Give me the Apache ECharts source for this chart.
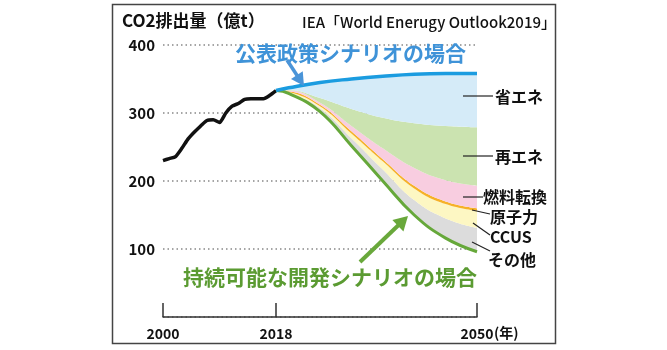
<!DOCTYPE html>
<html>
<head>
<meta charset="utf-8">
<script src="https://cdn.jsdelivr.net/npm/echarts@6/dist/echarts.min.js"></script>
<style>
  html, body { margin: 0; padding: 0; background: #fff; }
  #chart { width: 667px; height: 350px; }
</style>
</head>
<body>
<div id="chart"></div>
<script>
// 実績 (2000-2018)
const histYears = [2000, 2001, 2002, 2003, 2004, 2005, 2006, 2007, 2008, 2009,
                   2010, 2011, 2012, 2013, 2014, 2015, 2016, 2017, 2018];
const histCO2 = [230, 233, 236, 248, 262, 272, 281, 289, 290, 286,
                 300, 310, 314, 320, 321, 321, 321, 326, 333];

// 見通し (2018-2050)
const futureYears = [2018, 2020, 2025, 2030, 2035, 2040, 2045, 2050];
const steps = [333, 337, 345, 350, 354, 357, 358, 358];   // 公表政策シナリオ
const sds = [333, 329, 302, 252, 200, 150, 116, 96];      // 持続可能な開発シナリオ
// 削減分の内訳（下から積み上げ）
const other   = [0, 1, 5, 11, 17, 22, 29, 35];   // その他
const ccus    = [0, 1, 3, 7, 12, 17, 21, 25];    // CCUS
const nuclear = [0, 1, 2, 3, 3, 4, 4, 4];        // 原子力
const fuel    = [0, 1, 3, 8, 16, 26, 31, 33];    // 燃料転換
const renew   = [0, 1, 7, 25, 45, 66, 80, 86];   // 再エネ
const effic   = [0, 3, 23, 44, 61, 72, 77, 79];  // 省エネ

const xTicks = [2000, 2018, 2050];
const yTicks = [100, 200, 300, 400];

const FONT = '"Noto Sans CJK JP", "Noto Sans", sans-serif';
const SMOOTH = 0.45;

// 系列は非表示のtime軸に載せる（value軸同士だと積み上げがx方向になるため）
function yr(y) { return Date.UTC(y, 0, 1); }

function pairs(xs, ys) {
  return xs.map(function (x, i) { return [yr(x), ys[i]]; });
}

function band(name, arr, color) {
  return {
    name: name,
    type: 'line',
    stack: 'sds',
    smooth: SMOOTH,
    symbol: 'none',
    lineStyle: { width: 0, opacity: 0 },
    areaStyle: { color: color, opacity: 1 },
    data: pairs(futureYears, arr),
    z: 1
  };
}

// 矢印（線＋三角）
function arrow(x1, y1, x2, y2, color, headLen, headW, lineW) {
  const dx = x2 - x1, dy = y2 - y1;
  const len = Math.sqrt(dx * dx + dy * dy);
  const ux = dx / len, uy = dy / len;
  const bx = x2 - ux * headLen, by = y2 - uy * headLen;
  const px = -uy, py = ux;
  return [
    { type: 'line', shape: { x1: x1, y1: y1, x2: bx + ux, y2: by + uy },
      style: { stroke: color, lineWidth: lineW }, z: 10 },
    { type: 'polygon', shape: { points: [[x2, y2],
        [bx + px * headW, by + py * headW], [bx - px * headW, by - py * headW]] },
      style: { fill: color }, z: 10 }
  ];
}

function label(text, x, y) {
  return { type: 'text', x: x, y: y, z: 10,
    style: { text: text, fill: '#111', font: 'bold 16px ' + FONT,
             textAlign: 'left', textVerticalAlign: 'middle' } };
}

function leader(x1, y1, x2, y2) {
  return { type: 'line', shape: { x1: x1, y1: y1, x2: x2, y2: y2 }, z: 10,
    style: { stroke: '#222', lineWidth: 1.2 } };
}

const chart = echarts.init(document.getElementById('chart'));

const option = {
  animation: false,
  useUTC: true,
  backgroundColor: '#fff',
  grid: { left: 163, right: 190, top: 45, bottom: 33 },
  xAxis: [
    { type: 'time', min: yr(2000), max: yr(2050), show: false },
    {
      type: 'value',
      min: 2000,
      max: 2050,
      position: 'bottom',
      axisLine: { lineStyle: { color: '#333', width: 1.5 } },
      axisTick: { customValues: xTicks, inside: true, length: 14,
                  lineStyle: { color: '#333', width: 1.5 } },
      axisLabel: { customValues: xTicks, margin: 10, color: '#111',
                   fontSize: 14, fontWeight: 'bold', fontFamily: FONT,
                   formatter: function (v) { return String(v); } },
      splitLine: { show: false }
    }
  ],
  yAxis: {
    type: 'value',
    min: 0,
    max: 400,
    interval: 100,
    axisLine: { show: false },
    axisTick: { show: false },
    axisLabel: { margin: 8, color: '#111', fontSize: 15, fontWeight: 'bold', fontFamily: FONT,
                 formatter: function (v) { return yTicks.indexOf(v) >= 0 ? String(v) : ''; } },
    splitLine: { lineStyle: { color: '#888', type: [1.5, 3], width: 1.5 } }
  },
  series: [
    { name: 'base', type: 'line', stack: 'sds', smooth: SMOOTH, symbol: 'none',
      lineStyle: { width: 0, opacity: 0 }, data: pairs(futureYears, sds), z: 1 },
    band('その他', other, '#dcdcdc'),
    band('CCUS', ccus, '#fdf7c3'),
    band('原子力', nuclear, '#f6b127'),
    band('燃料転換', fuel, '#f8cde0'),
    band('再エネ', renew, '#cbe3b0'),
    band('省エネ', effic, '#d5ebf8'),
    { name: '実績', type: 'line', symbol: 'none', smooth: 0.2,
      lineStyle: { color: '#111', width: 3.5 }, data: pairs(histYears, histCO2), z: 5 },
    { name: '持続可能な開発シナリオ', type: 'line', smooth: SMOOTH, symbol: 'none',
      lineStyle: { color: '#66a83a', width: 3 }, data: pairs(futureYears, sds), z: 5 },
    { name: '公表政策シナリオ', type: 'line', smooth: SMOOTH, symbol: 'none',
      lineStyle: { color: '#1b9ce0', width: 3.5 }, data: pairs(futureYears, steps), z: 5 }
  ],
  graphic: [
    { type: 'rect', shape: { x: 112.5, y: 4.5, width: 443, height: 339 },
      style: { fill: 'none', stroke: '#444', lineWidth: 1.5 }, z: 0 },
    { type: 'text', x: 122, y: 21, z: 10,
      style: { text: 'CO2排出量（億t）', fill: '#111', font: 'bold 17px ' + FONT,
               textVerticalAlign: 'middle' } },
    { type: 'text', x: 302, y: 22, z: 10,
      style: { text: 'IEA「World Enerugy Outlook2019」', fill: '#111', font: '500 15px ' + FONT,
               textVerticalAlign: 'middle' } },
    { type: 'text', x: 235, y: 53, z: 10,
      style: { text: '公表政策シナリオの場合', fill: '#3f93d8', font: 'bold 21px ' + FONT,
               textVerticalAlign: 'middle' } },
    { type: 'text', x: 183, y: 277, z: 10,
      style: { text: '持続可能な開発シナリオの場合', fill: '#5b9b32', font: 'bold 21px ' + FONT,
               textVerticalAlign: 'middle' } },
    { type: 'text', x: 494, y: 333, z: 10,
      style: { text: '(年)', fill: '#111', font: 'bold 14px ' + FONT,
               textVerticalAlign: 'middle' } },
    label('省エネ', 495, 97),
    label('再エネ', 495, 157),
    label('燃料転換', 483, 197),
    label('原子力', 490, 217),
    label('CCUS', 490, 237),
    label('その他', 488, 260),
    leader(463, 96, 493, 96),
    leader(463, 156, 493, 156),
    leader(463, 197, 483, 197),
    leader(472, 210, 490, 214),
    leader(473, 223, 490, 235),
    leader(472, 242, 490, 251)
  ].concat(arrow(287, 60, 304, 86, '#4a94d8', 13, 7, 3.5))
   .concat(arrow(360, 262, 408, 216, '#69a83b', 14, 8, 4))
};

chart.setOption(option);
</script>
</body>
</html>
